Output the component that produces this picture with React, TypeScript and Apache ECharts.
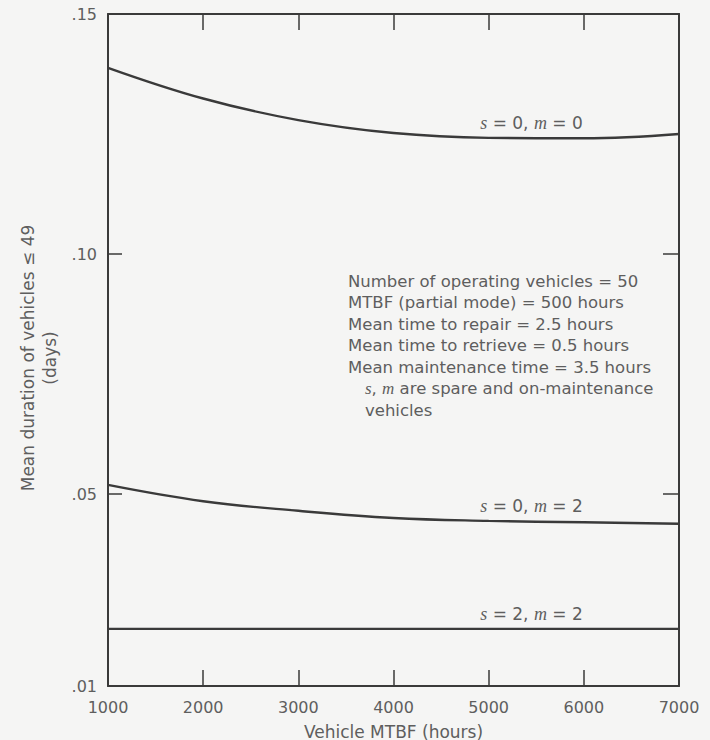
import React, { useEffect, useRef } from "react";
import * as echarts from "echarts";

// Vehicle MTBF (hours)
const mtbf = [1000, 2000, 3000, 4000, 5000, 6000, 7000];

// Mean duration of vehicles <= 49 (days), per spare / on-maintenance setting
const s0m0 = [0.1388, 0.1324, 0.1279, 0.1252, 0.1242, 0.1241, 0.125];
const s0m2 = [0.0519, 0.0485, 0.0465, 0.045, 0.0444, 0.0441, 0.0438];
const s2m2 = [0.0219, 0.0219, 0.0219, 0.0219, 0.0219, 0.0219, 0.0219];

const curveLabels = [
  { s: 0, m: 0, at: 5450, value: 0.1242, data: s0m0 },
  { s: 0, m: 2, at: 5450, value: 0.0445, data: s0m2 },
  { s: 2, m: 2, at: 5450, value: 0.0219, data: s2m2 },
];

const yLabelValues = [0.01, 0.05, 0.1, 0.15];
const yTickValues = [0.05, 0.1];

const notes = [
  "Number of operating vehicles = 50",
  "MTBF (partial mode) = 500 hours",
  "Mean time to repair = 2.5 hours",
  "Mean time to retrieve = 0.5 hours",
  "Mean maintenance time = 3.5 hours",
];
const notesTail = ["{i|s}, {i|m} are spare and on-maintenance", "vehicles"];

const FONT = "'DejaVu Sans', 'Liberation Sans', sans-serif";
const SERIF = "'Liberation Serif', 'DejaVu Serif', serif";
const INK = "#3a3a3a";
const TEXT = "#5e5e5e";

export default function App() {
  const ref = useRef<HTMLDivElement>(null);

  useEffect(() => {
    if (!ref.current) return;
    const chart = echarts.init(ref.current, undefined, { renderer: "svg" });

    const axisLine = { show: true, lineStyle: { color: INK, width: 2 } };
    const fmtY = (v: number) => "." + String(Math.round(v * 100)).padStart(2, "0");

    const series = curveLabels.map((c) => ({
      type: "line",
      data: mtbf.map((x, i) => [x, c.data[i]]),
      smooth: 0.4,
      showSymbol: false,
      lineStyle: { color: INK, width: 2.4 },
      markPoint: {
        symbol: "circle",
        symbolSize: 1,
        itemStyle: { color: "rgba(0,0,0,0)" },
        data: [
          {
            coord: [c.at, c.value],
            label: {
              show: true,
              position: "top",
              distance: 5,
              formatter: `{i|s} = ${c.s}, {i|m} = ${c.m}`,
              color: TEXT,
              fontFamily: FONT,
              fontSize: 17,
              rich: {
                i: { fontFamily: SERIF, fontStyle: "italic", fontSize: 18, color: TEXT },
              },
            },
          },
        ],
      },
    }));

    const noteTexts: any[] = notes.map((t, i) => ({
      type: "text",
      x: 348,
      y: 281 + i * 21.5,
      style: {
        text: t,
        fill: TEXT,
        font: `16.5px ${FONT}`,
        verticalAlign: "middle",
      },
    }));
    notesTail.forEach((t, i) => {
      noteTexts.push({
        type: "text",
        x: 365,
        y: 281 + (notes.length + i) * 21.5,
        style: {
          text: t,
          fill: TEXT,
          font: `16.5px ${FONT}`,
          verticalAlign: "middle",
          rich: {
            i: { fontFamily: SERIF, fontStyle: "italic", fontSize: 17, fill: TEXT },
          },
        },
      });
    });

    chart.setOption({
      animation: false,
      backgroundColor: "#f5f5f4",
      grid: { left: 108, right: 31, top: 14, bottom: 54, outerBoundsMode: "none" },
      xAxis: [
        {
          type: "value",
          position: "bottom",
          min: 1000,
          max: 7000,
          interval: 1000,
          name: "Vehicle MTBF (hours)",
          nameLocation: "middle",
          nameGap: 37,
          nameTextStyle: { fontFamily: FONT, fontSize: 17, color: TEXT },
          axisLine,
          axisTick: { show: true, inside: true, length: 16, lineStyle: { color: INK, width: 1.5 } },
          axisLabel: {
            fontFamily: FONT,
            fontSize: 16,
            color: TEXT,
            margin: 13,
            formatter: (v: number) => String(v),
          },
          splitLine: { show: false },
        },
        {
          type: "value",
          position: "top",
          min: 1000,
          max: 7000,
          interval: 1000,
          axisLine,
          axisTick: { show: true, inside: true, length: 16, lineStyle: { color: INK, width: 1.5 } },
          axisLabel: { show: false },
          splitLine: { show: false },
        },
      ],
      yAxis: [
        {
          type: "value",
          position: "left",
          min: 0.01,
          max: 0.15,
          name: "Mean duration of vehicles \u2264 49\n(days)",
          nameLocation: "middle",
          nameGap: 45,
          nameTextStyle: {
            fontFamily: FONT,
            fontSize: 17,
            color: TEXT,
            lineHeight: 22,
            padding: [0, 16, 0, 0],
          },
          axisLine,
          axisTick: {
            show: true,
            inside: true,
            length: 14,
            customValues: yTickValues,
            lineStyle: { color: INK, width: 1.5 },
          },
          axisLabel: {
            fontFamily: FONT,
            fontSize: 16,
            color: TEXT,
            margin: 11,
            customValues: yLabelValues,
            formatter: fmtY,
          },
          splitLine: { show: false },
        },
        {
          type: "value",
          position: "right",
          min: 0.01,
          max: 0.15,
          axisLine,
          axisTick: {
            show: true,
            inside: true,
            length: 16,
            customValues: yTickValues,
            lineStyle: { color: INK, width: 1.5 },
          },
          axisLabel: { show: false },
          splitLine: { show: false },
        },
      ],
      series,
      graphic: noteTexts,
    });

    return () => chart.dispose();
  }, []);

  return (
    <div
      ref={ref}
      style={{ position: "fixed", left: 0, top: 0, width: 710, height: 740 }}
    />
  );
}
